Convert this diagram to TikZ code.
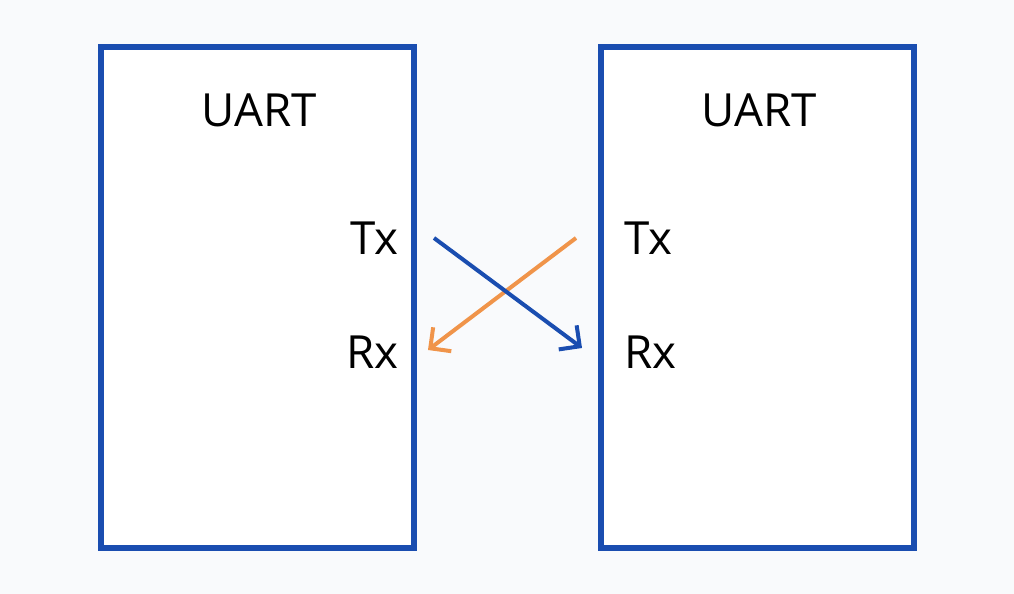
\documentclass[tikz,border=0pt]{standalone}
\usepackage{fontspec}
\setmainfont{Open Sans}
\usepackage{tikz}
\usetikzlibrary{positioning,calc,arrows.meta}
\definecolor{uartblue}{HTML}{1A4DB0}
\definecolor{uartorange}{HTML}{F0944A}
\definecolor{bgcol}{HTML}{F9FAFC}
\tikzstyle{chip} = [draw=uartblue, line width=1.3mm, fill=white, minimum width=6.26cm, minimum height=10.02cm, inner sep=0pt]
\tikzstyle{lbl} = [font=\fontsize{26}{30}\selectfont, inner sep=0pt]
\tikzstyle{wire} = [line width=0.8mm, -{Straight Barb[length=3mm, width=6mm]}]

\begin{document}
\begin{tikzpicture}[x=0.02cm, y=0.02cm]
            \fill[bgcol] (0,0) rectangle (1014,594);
            \useasboundingbox (0,0) rectangle (1014,594);
            \node[chip] (left) at (257.5,296.5) {};
            \node[chip] (right) at (757.5,296.5) {};

            \node[lbl] (uartL) at (259,484) {UART};
            \node[lbl] (uartR) at (759,484) {UART};
            \node[lbl, anchor=east] (txL) at (399,356) {Tx};
            \node[lbl, anchor=east] (rxL) at (399,242) {Rx};
            \node[lbl, anchor=west] (txR) at (624,356) {Tx};
            \node[lbl, anchor=west] (rxR) at (624,242) {Rx};

            \coordinate (txLend) at (434,356);
            \coordinate (rxRend) at (582,246);
            \coordinate (txRend) at (576,356);
            \coordinate (rxLend) at (428,244);

            \draw[wire, draw=uartorange] (txRend) -- (rxLend);
            \draw[wire, draw=uartblue] (txLend) -- (rxRend);
\end{tikzpicture}
\end{document}
